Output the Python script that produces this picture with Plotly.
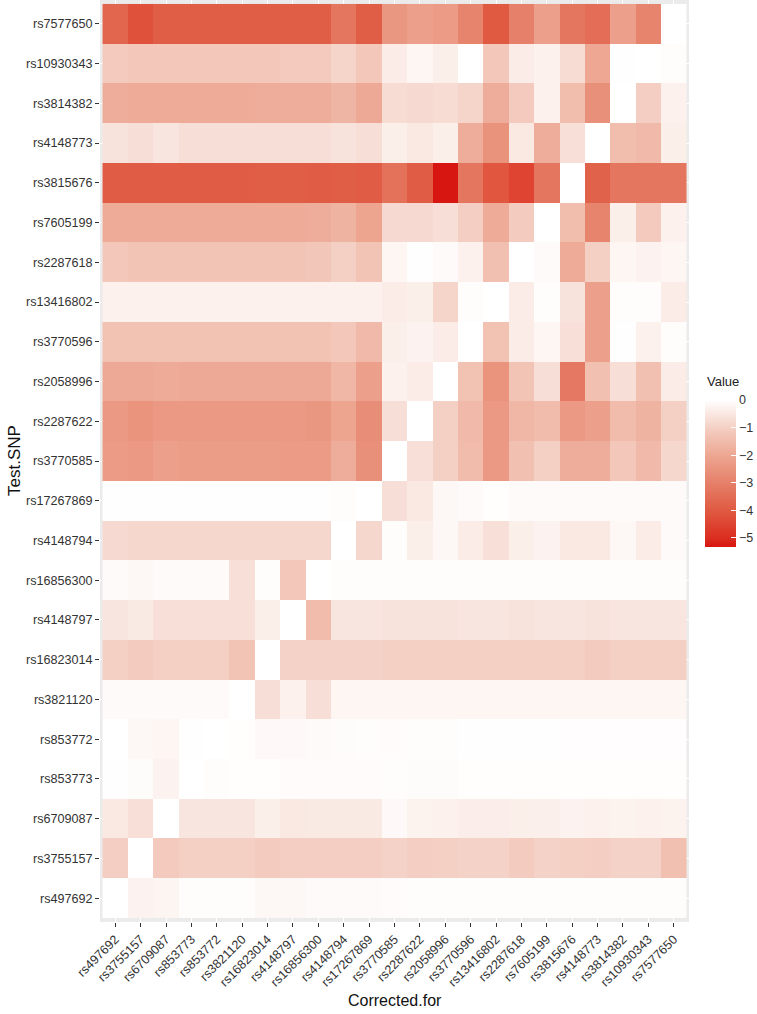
import plotly.graph_objects as go

# SNP order along the x axis (left to right); rows run the other way (top to bottom)
corrected_for = ["rs497692", "rs3755157", "rs6709087", "rs853773", "rs853772", "rs3821120",
                 "rs16823014", "rs4148797", "rs16856300", "rs4148794", "rs17267869", "rs3770585",
                 "rs2287622", "rs2058996", "rs3770596", "rs13416802", "rs2287618", "rs7605199",
                 "rs3815676", "rs4148773", "rs3814382", "rs10930343", "rs7577650"]
test_snp = corrected_for[::-1]

# one list per Test.SNP row, values in the column order above
rs7577650 = [-3.7, -4.2, -3.9, -3.9, -3.9, -3.9, -3.9, -3.9, -3.9, -3.3, -3.9, -2.4, -2.2, -2.3, -2.9, -4.0, -3.0, -2.2, -3.3, -3.5, -2.2, -2.9, 0]
rs10930343 = [-1.15, -1.2, -1.2, -1.2, -1.2, -1.2, -1.2, -1.15, -1.15, -0.9, -1.2, -0.4, -0.2, -0.35, 0, -1.2, -0.4, -0.3, -0.75, -2.0, -0.02, 0, -0.05]
rs3814382 = [-1.85, -1.9, -1.9, -1.9, -1.9, -1.9, -1.85, -1.85, -1.85, -1.65, -1.95, -0.75, -0.8, -0.75, -0.9, -1.85, -1.15, -0.3, -1.45, -2.6, 0, -1.05, -0.3]
rs4148773 = [-0.6, -0.7, -0.55, -0.7, -0.7, -0.7, -0.7, -0.7, -0.7, -0.6, -0.7, -0.35, -0.5, -0.35, -1.85, -2.55, -0.5, -1.85, -0.65, 0, -1.45, -1.55, -0.35]
rs3815676 = [-3.95, -3.95, -3.95, -3.95, -3.95, -3.95, -3.9, -3.9, -3.95, -3.9, -3.95, -3.4, -3.95, -5.3, -3.3, -4.1, -4.5, -3.3, 0, -3.8, -3.3, -3.3, -3.3]
rs7605199 = [-1.9, -1.9, -1.9, -1.9, -1.9, -1.9, -1.9, -1.9, -1.85, -1.7, -2.05, -0.8, -0.8, -0.7, -1.05, -1.9, -1.1, 0, -1.45, -2.9, -0.35, -1.15, -0.3]
rs2287618 = [-1.2, -1.3, -1.3, -1.3, -1.3, -1.3, -1.3, -1.3, -1.25, -1.0, -1.3, -0.2, -0.02, -0.1, -0.3, -1.4, 0, -0.1, -1.9, -1.0, -0.2, -0.25, -0.2]
rs13416802 = [-0.3, -0.3, -0.3, -0.3, -0.3, -0.3, -0.3, -0.3, -0.3, -0.3, -0.3, -0.4, -0.35, -0.9, -0.05, 0, -0.4, -0.05, -0.6, -2.2, -0.05, -0.05, -0.4]
rs3770596 = [-1.35, -1.35, -1.35, -1.35, -1.35, -1.35, -1.35, -1.35, -1.35, -1.2, -1.55, -0.35, -0.25, -0.4, 0, -1.35, -0.4, -0.2, -0.65, -2.2, -0.02, -0.3, -0.05]
rs2058996 = [-1.95, -1.95, -1.9, -1.95, -1.95, -1.95, -1.95, -1.95, -1.95, -1.6, -2.2, -0.3, -0.4, 0, -1.35, -2.5, -1.3, -0.7, -3.2, -1.4, -0.7, -1.4, -0.4]
rs2287622 = [-2.35, -2.5, -2.35, -2.35, -2.35, -2.35, -2.35, -2.35, -2.4, -2.05, -2.65, -0.7, 0, -1.0, -1.55, -2.35, -1.6, -1.5, -2.35, -2.2, -1.5, -1.7, -1.0]
rs3770585 = [-2.3, -2.35, -2.2, -2.25, -2.25, -2.25, -2.25, -2.3, -2.3, -1.85, -2.6, 0, -0.65, -1.0, -1.5, -2.35, -1.4, -1.0, -1.85, -1.85, -1.2, -1.55, -0.85]
rs17267869 = [-0.02, -0.02, -0.02, -0.02, -0.02, -0.02, -0.02, -0.02, -0.02, -0.05, 0, -0.7, -0.5, -0.15, -0.1, -0.03, -0.1, -0.1, -0.1, -0.1, -0.1, -0.1, -0.1]
rs4148794 = [-0.8, -0.85, -0.85, -0.85, -0.85, -0.85, -0.85, -0.85, -0.85, 0, -0.85, -0.05, -0.35, -0.15, -0.4, -0.65, -0.35, -0.25, -0.5, -0.5, -0.15, -0.4, -0.1]
rs16856300 = [-0.1, -0.15, -0.1, -0.1, -0.1, -0.65, -0.05, -1.2, 0, -0.05, -0.05, -0.05, -0.05, -0.05, -0.05, -0.05, -0.05, -0.05, -0.05, -0.05, -0.05, -0.05, -0.05]
rs4148797 = [-0.55, -0.45, -0.65, -0.65, -0.65, -0.65, -0.35, 0, -1.5, -0.55, -0.55, -0.6, -0.6, -0.6, -0.55, -0.55, -0.6, -0.55, -0.55, -0.6, -0.55, -0.55, -0.55]
rs16823014 = [-1.0, -1.1, -1.0, -1.0, -1.0, -1.3, 0, -0.95, -0.95, -0.95, -0.95, -1.0, -1.0, -1.0, -1.0, -1.0, -1.0, -1.0, -1.0, -1.1, -1.0, -1.0, -1.0]
rs3821120 = [-0.1, -0.1, -0.1, -0.1, -0.1, 0, -0.7, -0.3, -0.7, -0.2, -0.2, -0.2, -0.2, -0.2, -0.2, -0.2, -0.2, -0.2, -0.2, -0.2, -0.2, -0.2, -0.2]
rs853772 = [0, -0.15, -0.2, -0.02, 0, -0.03, -0.12, -0.12, -0.1, -0.07, -0.05, -0.08, -0.05, -0.05, -0.02, -0.02, -0.02, -0.02, -0.04, -0.04, -0.04, -0.04, -0.04]
rs853773 = [-0.02, -0.07, -0.25, 0, -0.05, -0.03, -0.03, -0.08, -0.08, -0.08, -0.08, -0.05, -0.06, -0.06, -0.03, -0.03, -0.03, -0.03, -0.03, -0.03, -0.03, -0.03, -0.03]
rs6709087 = [-0.5, -0.65, 0, -0.55, -0.55, -0.55, -0.35, -0.5, -0.45, -0.45, -0.45, -0.12, -0.28, -0.3, -0.38, -0.38, -0.35, -0.33, -0.25, -0.3, -0.28, -0.3, -0.28]
rs3755157 = [-1.05, 0, -1.15, -1.0, -1.0, -1.0, -1.1, -1.05, -1.05, -1.05, -1.05, -0.95, -1.05, -1.0, -0.95, -0.95, -1.1, -0.95, -1.0, -1.05, -0.95, -0.95, -1.4]
rs497692 = [0, -0.25, -0.22, -0.05, -0.05, -0.05, -0.15, -0.15, -0.1, -0.1, -0.1, -0.08, -0.05, -0.05, -0.05, -0.05, -0.05, -0.05, -0.05, -0.05, -0.05, -0.05, -0.05]

values = [rs7577650, rs10930343, rs3814382, rs4148773, rs3815676, rs7605199, rs2287618,
          rs13416802, rs3770596, rs2058996, rs2287622, rs3770585, rs17267869, rs4148794,
          rs16856300, rs4148797, rs16823014, rs3821120, rs853772, rs853773, rs6709087,
          rs3755157, rs497692]

zmin, zmax = -5.33, 0
legend_ticks = [0, -1, -2, -3, -4, -5]

# red -> white gradient, stops
stops = [(-5.33, "#d81410"), (-5, "#db2e20"), (-4, "#e05a42"), (-3, "#e6806a"),
         (-2, "#eda792"), (-1, "#f4d0c4"), (0, "#ffffff")]
colorscale = [[(v - zmin) / (zmax - zmin), c] for v, c in stops]

W, H = 757, 1014
ML, MR, MT, MB = 100, 68, 0, 92
pw, ph = W - ML - MR, H - MT - MB

fig = go.Figure(go.Heatmap(
    x=corrected_for,
    y=test_snp,
    z=values,
    zmin=zmin, zmax=zmax,
    colorscale=colorscale,
    xgap=0, ygap=0,
    colorbar=dict(
        x=(705 - ML) / pw, xanchor="left", xpad=0,
        y=1 - (400 - MT) / ph, yanchor="top", ypad=0,
        len=147, lenmode="pixels",
        thickness=31, outlinewidth=0,
        tickvals=legend_ticks, ticktext=[str(t).replace("-", "\u2212") for t in legend_ticks],
        ticks="inside", ticklen=5, tickcolor="white",
        tickfont=dict(size=12.5, color="#333"),
    ),
))

axis_font = dict(family="Liberation Sans, Arial, sans-serif", size=12.6, color="#333")

fig.update_xaxes(
    type="category", range=[-0.6, 22.6], automargin=False,
    showgrid=True, gridcolor="white", gridwidth=1,
    ticks="outside", ticklen=4, tickcolor="#333",
    tickangle=-45, tickfont=axis_font,
    zeroline=False,
)
fig.update_yaxes(
    type="category", range=[22.6, -0.6], automargin=False,
    showgrid=True, gridcolor="white", gridwidth=1,
    ticks="outside", ticklen=4, tickcolor="#333",
    tickfont=axis_font,
    zeroline=False,
)

title_font = dict(family="Liberation Sans, Arial, sans-serif", size=16, color="#111")
fig.add_annotation(text="Corrected.for", xref="paper", yref="paper",
                   x=0.5, y=-(1000 - MT - ph) / ph, xanchor="center", yanchor="middle",
                   showarrow=False, font=title_font)
fig.add_annotation(text="Test.SNP", xref="paper", yref="paper", textangle=-90,
                   x=-(ML - 14) / pw, y=0.5, xanchor="center", yanchor="middle",
                   showarrow=False, font=dict(family="Liberation Sans, Arial, sans-serif",
                                              size=17, color="#111"))
fig.add_annotation(text="Value", xref="paper", yref="paper",
                   x=(705 - ML) / pw, y=1 - (382 - MT) / ph, xanchor="left", yanchor="middle",
                   showarrow=False, font=dict(family="Liberation Sans, Arial, sans-serif",
                                              size=13, color="#222"))

fig.update_layout(
    width=W, height=H,
    margin=dict(l=ML, r=MR, t=MT, b=MB, pad=0, autoexpand=False),
    plot_bgcolor="#ebebeb",
    paper_bgcolor="white",
    font=dict(family="Liberation Sans, Arial, sans-serif"),
)

# the page body has a default 8px margin; drop it so the figure sits at the window corner
fig.write_html("out.html", config={"displayModeBar": False},
               post_script="document.body.style.margin='0';")
